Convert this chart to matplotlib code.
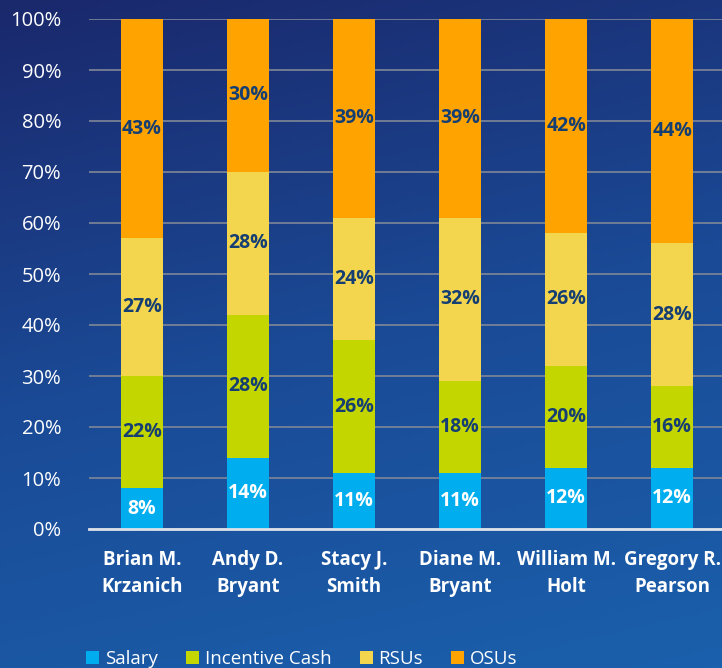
import numpy as np
from matplotlib import pyplot as plt
from matplotlib.colors import LinearSegmentedColormap
from matplotlib.patches import Patch

executives = [
    "Brian M.\nKrzanich",
    "Andy D.\nBryant",
    "Stacy J.\nSmith",
    "Diane M.\nBryant",
    "William M.\nHolt",
    "Gregory R.\nPearson",
]
salary = [8, 14, 11, 11, 12, 12]
incentive_cash = [22, 28, 26, 18, 20, 16]
rsus = [27, 28, 24, 32, 26, 28]
osus = [43, 30, 39, 39, 42, 44]

series_names = ["Salary", "Incentive Cash", "RSUs", "OSUs"]
colors = ["#00aeef", "#c4d600", "#f3d54e", "#ffa300"]
label_colors = ["white", "#153f73", "#153f73", "#153f73"]

plt.rcParams["font.family"] = ["Open Sans", "DejaVu Sans"]

fig = plt.figure(figsize=(7.22, 6.68), dpi=100)

# gradient background
bg = fig.add_axes([0, 0, 1, 1], zorder=-10)
grad_cmap = LinearSegmentedColormap.from_list("bg", ["#1a286c", "#1a4a96", "#1a60ac"])
yy, xx = np.mgrid[0:1:200j, 0:1:200j]
bg.imshow(0.8 * yy + 0.2 * xx, cmap=grad_cmap, aspect="auto", extent=[0, 1, 0, 1], origin="upper")
bg.axis("off")

W, H = 722, 668
ax = fig.add_axes([89 / W, 1 - 529 / H, (722 - 89) / W, 510 / H])
ax.patch.set_alpha(0)

x = np.arange(len(executives))
bottom = np.zeros(len(executives))
for vals, name, c, lc in zip([salary, incentive_cash, rsus, osus], series_names, colors, label_colors):
    vals = np.array(vals, dtype=float)
    ax.bar(x, vals, 0.4, bottom=bottom, color=c, zorder=3, label=name)
    for xi, b, v in zip(x, bottom, vals):
        ax.text(xi, b + v / 2, f"{v:.0f}%", ha="center", va="center",
                color=lc, fontsize=14, fontweight="bold", zorder=4)
    bottom += vals

ax.set_xlim(-0.5, 5.47)
ax.set_ylim(0, 100)
ax.set_yticks(np.arange(0, 101, 10))
ax.set_yticklabels([f"{v}%" for v in range(0, 101, 10)])
ax.tick_params(axis="y", length=0, pad=20, labelsize=14.5, labelcolor="white")
ax.set_xticks(x)
ax.set_xticklabels(executives, fontweight="bold", linespacing=1.45)
ax.tick_params(axis="x", length=0, pad=15, labelsize=13.5, labelcolor="white")
ax.grid(axis="y", color="#7f8797", linewidth=1.2, zorder=0)
for s in ["top", "right", "left"]:
    ax.spines[s].set_visible(False)
ax.spines["bottom"].set_color("#dde2ea")
ax.spines["bottom"].set_linewidth(2)
ax.spines["bottom"].set_zorder(5)

handles = [Patch(facecolor=c, edgecolor="none") for c in colors]
fig.legend(handles, series_names, loc="center", ncol=4, frameon=False,
           bbox_to_anchor=(0.418, 0.013), fontsize=13.5, labelcolor="white",
           handlelength=0.7, handleheight=0.7, handletextpad=0.3, columnspacing=1.5)

fig.savefig("out.png", dpi=100)
